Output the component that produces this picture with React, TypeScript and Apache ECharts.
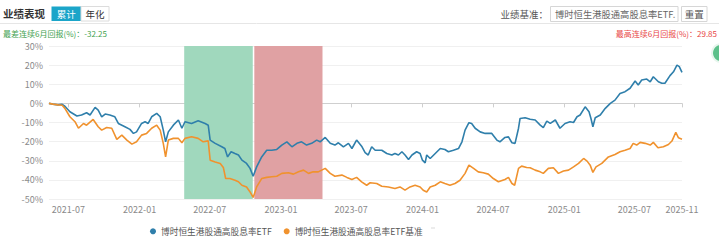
import React, { useEffect, useRef } from "react";
import * as echarts from "echarts";

// ---- data (days counted from 2021-05-12) ----
const START_DATE = [2021, 5, 12];

const etfDays = [0, 10, 23, 34, 41, 54, 72, 84, 97, 106, 119, 127, 136, 145, 157, 170, 179, 196, 209, 218, 226, 239, 248, 256, 265, 278, 287, 295, 301, 308, 321, 334, 343, 351, 368, 385, 403, 411, 416, 429, 446, 454, 461, 470, 480, 489, 498, 510, 519, 527, 536, 549, 562, 575, 588, 601, 614, 627, 640, 652, 665, 678, 691, 700, 713, 726, 738, 747, 760, 773, 782, 794, 807, 816, 824, 833, 842, 859, 872, 885, 893, 902, 911, 919, 928, 937, 949, 958, 964, 971, 975, 984, 997, 1010, 1022, 1031, 1044, 1057, 1066, 1074, 1084, 1091, 1100, 1113, 1126, 1143, 1156, 1164, 1177, 1186, 1195, 1203, 1212, 1216, 1229, 1242, 1255, 1268, 1276, 1285, 1294, 1307, 1319, 1332, 1345, 1354, 1363, 1371, 1384, 1394, 1399, 1404, 1410, 1423, 1436, 1449, 1461, 1474, 1487, 1500, 1513, 1521, 1530, 1543, 1552, 1560, 1573, 1582, 1590, 1603, 1612, 1621, 1627, 1634];
const etfValues = [0, -0.4, -0.8, -0.5, -1.5, -4.4, -6.6, -6.1, -4.9, -6.1, -2.1, -3.5, -7, -5.6, -6.1, -7, -10.5, -12.2, -13.6, -15.7, -14.9, -10.5, -9.6, -10.5, -7, -5.2, -7, -14, -20.1, -14.9, -11.4, -8.7, -13, -9.6, -10.5, -9.1, -10.5, -11.4, -19.2, -20.9, -22.7, -23.6, -28, -25.3, -26.2, -27, -29.7, -31.4, -34, -38.1, -33.2, -28, -24.5, -24.5, -24.1, -21.8, -20.1, -22.7, -20.9, -20.1, -21.8, -20.9, -19.2, -20.1, -17.8, -20.9, -21.8, -20.6, -22.7, -20.9, -23.6, -19.2, -22.4, -25.8, -27, -22.7, -24.5, -24.5, -26.2, -27, -26.2, -27, -25.3, -27, -29.3, -27, -25.3, -26.2, -29.7, -31.1, -27, -28.8, -26.2, -23.6, -24.1, -25.3, -24.5, -23.6, -20.1, -14, -10.1, -10.5, -13, -14.9, -15.7, -15.7, -19.2, -20.1, -17.8, -17.5, -20.6, -20.9, -13, -7.9, -7.5, -8.3, -8.7, -11.4, -12.7, -9.3, -10.5, -8.7, -13, -10.5, -9.6, -10, -7, -6.1, -1.8, -4.4, -7.9, -12.2, -7.5, -6.1, -2.6, 0, 1.7, 5.2, 6.1, 7.9, 11.7, 9.6, 12.2, 12.7, 11.3, 13.9, 11.3, 10.5, 10.5, 14.5, 16.5, 20, 19.2, 16.2];

const benchDays = [0, 10, 23, 34, 41, 54, 67, 76, 89, 97, 114, 127, 136, 149, 162, 175, 188, 201, 214, 226, 239, 252, 265, 278, 287, 295, 301, 308, 321, 334, 343, 351, 368, 385, 398, 411, 416, 429, 442, 450, 456, 467, 480, 489, 498, 510, 519, 527, 536, 549, 562, 575, 588, 601, 618, 631, 644, 657, 670, 682, 695, 713, 726, 738, 756, 769, 782, 794, 807, 820, 829, 846, 859, 876, 893, 906, 919, 932, 945, 958, 966, 975, 984, 997, 1010, 1022, 1035, 1048, 1061, 1074, 1084, 1096, 1108, 1121, 1134, 1147, 1160, 1177, 1186, 1195, 1202, 1212, 1220, 1233, 1242, 1255, 1268, 1276, 1289, 1302, 1315, 1328, 1341, 1354, 1367, 1380, 1389, 1397, 1404, 1412, 1427, 1444, 1461, 1474, 1487, 1500, 1508, 1517, 1526, 1539, 1552, 1560, 1572, 1586, 1599, 1608, 1618, 1625, 1634];
const benchValues = [0, -0.4, -0.8, -1, -2.6, -7, -9.6, -13, -10.5, -11.4, -8.4, -12.2, -14, -12.6, -13, -18.8, -16.6, -19.2, -21.3, -20.1, -16.6, -15.7, -13, -11.4, -14, -20.9, -28, -19.2, -18.3, -18.3, -20.6, -18.3, -17.5, -18.3, -20.1, -19.6, -29.7, -30.6, -31.4, -33.5, -39.3, -39.3, -40.2, -41, -42.8, -43.7, -46.3, -49.2, -43.7, -39.3, -38.7, -38.4, -38.1, -36.6, -36.3, -37, -35.8, -34.9, -36.6, -35.8, -35.8, -34, -36.6, -38.1, -37.5, -38.7, -39.8, -38.7, -41, -42.8, -41.5, -41.9, -43.3, -43.7, -44.5, -43.7, -45.4, -43.7, -42.8, -43.7, -45.4, -46.3, -43.7, -42.8, -41, -41.9, -42.8, -41.9, -40.2, -36.6, -32.3, -34, -35.8, -36.3, -37, -39.3, -41, -39.8, -38.7, -41.9, -42.8, -34, -32.8, -33.5, -33.7, -34.9, -35.8, -36.6, -34, -33.7, -36.6, -35.4, -34.9, -33.2, -31.4, -28.8, -30.2, -32.3, -36.1, -33.2, -31.4, -28, -26.7, -25.3, -24.5, -23.6, -20.9, -21.8, -20.4, -20.9, -21.8, -20.4, -23.2, -22.7, -21.5, -19.7, -15.2, -18, -18.7];

const tickDates = ["2021-07-01", "2022-01-01", "2022-07-01", "2023-01-01", "2023-07-01", "2024-01-01", "2024-07-01", "2025-01-01", "2025-07-01", "2025-11-01"];
const worstPeriod = ["2022-04-26", "2022-10-20"];
const bestPeriod = ["2022-10-24", "2023-04-18"];
const yTicks = [-50, -40, -30, -20, -10, 0, 10, 20, 30];

const seriesNames = ["博时恒生港股通高股息率ETF", "博时恒生港股通高股息率ETF基准"];
const worstText = "最差连续6月回报(%)：-32.25";
const bestText = "最高连续6月回报(%)：29.85";

const FONT = '"Noto Sans CJK SC", "Noto Sans", sans-serif';
const DAY = 86400000;
const startTs = Date.UTC(START_DATE[0], START_DATE[1] - 1, START_DATE[2]);
const dayTs = (d: number) => startTs + d * DAY;
const parse = (s: string) => {
  const [y, m, d] = s.split("-").map(Number);
  return Date.UTC(y, m - 1, d);
};
const fmt = (v: number) => {
  const dt = new Date(v);
  const m = dt.getUTCMonth() + 1;
  return dt.getUTCFullYear() + "-" + (m < 10 ? "0" + m : m);
};

export default function App() {
  const ref = useRef<HTMLDivElement>(null);
  useEffect(() => {
    if (!ref.current) return;
    const chart = echarts.init(ref.current, null, { renderer: "svg" });
    const etfData = etfDays.map((d, i) => [dayTs(d), etfValues[i]]);
    const benchData = benchDays.map((d, i) => [dayTs(d), benchValues[i]]);
    const ticks = tickDates.map(parse);
    chart.setOption({
      animation: false,
      textStyle: { fontFamily: FONT },
      grid: { left: 49, right: 37, top: 46, height: 153 },
      xAxis: {
        type: "value",
        min: dayTs(etfDays[0]),
        max: dayTs(etfDays[etfDays.length - 1]),
        axisLine: { lineStyle: { color: "#cfcfcf" } },
        axisTick: { show: true, customValues: ticks, length: 4, lineStyle: { color: "#cfcfcf" } },
        axisLabel: {
          customValues: ticks,
          formatter: (v: number) => fmt(v),
          color: "#8a8a8a",
          fontSize: 9,
          margin: 6,
          fontFamily: FONT,
        },
        splitLine: { show: false },
      },
      yAxis: {
        type: "value",
        min: yTicks[0],
        max: yTicks[yTicks.length - 1],
        interval: 10,
        axisLabel: { formatter: "{value}%", color: "#8a8a8a", fontSize: 9, margin: 6, fontFamily: FONT },
        axisLine: { show: false },
        axisTick: { show: false },
        splitLine: { lineStyle: { color: "#f0f0f0" } },
      },
      legend: {
        left: 145,
        top: 222,
        icon: "circle",
        itemWidth: 6,
        itemHeight: 6,
        itemGap: 12,
        textStyle: { fontSize: 8.7, color: "#555", fontFamily: FONT },
        data: seriesNames,
      },
      series: [
        {
          name: seriesNames[0],
          type: "line",
          data: etfData,
          showSymbol: false,
          symbol: "none",
          lineStyle: { width: 1.6, color: "#2f7fab" },
          itemStyle: { color: "#2f7fab" },
          z: 3,
          markArea: {
            silent: true,
            data: [
              [{ xAxis: parse(worstPeriod[0]), itemStyle: { color: "#a0d8bd" } }, { xAxis: parse(worstPeriod[1]) }],
              [{ xAxis: parse(bestPeriod[0]), itemStyle: { color: "#e0a1a3" } }, { xAxis: parse(bestPeriod[1]) }],
            ],
          },
        },
        {
          name: seriesNames[1],
          type: "line",
          data: benchData,
          showSymbol: false,
          symbol: "none",
          lineStyle: { width: 1.6, color: "#f0922e" },
          itemStyle: { color: "#f0922e" },
          z: 3,
        },
      ],
      graphic: [
        { type: "line", shape: { x1: 0, y1: 23.5, x2: 719, y2: 23.5 }, style: { stroke: "#e6e6e6", lineWidth: 1 } },
        { type: "text", x: 3, y: 13.5, style: { text: "业绩表现", fontSize: 10.5, fontWeight: "bold", fill: "#333", fontFamily: FONT, textVerticalAlign: "middle" } },
        { type: "rect", shape: { x: 51.5, y: 6.5, width: 29.5, height: 14.5 }, style: { fill: "#1ba5c9" } },
        { type: "text", x: 66.3, y: 14, style: { text: "累计", fontSize: 9.5, fill: "#fff", fontFamily: FONT, textAlign: "center", textVerticalAlign: "middle" } },
        { type: "rect", shape: { x: 81, y: 6.5, width: 28, height: 14.5 }, style: { fill: "#fff", stroke: "#dcdcdc", lineWidth: 1 } },
        { type: "text", x: 95, y: 14, style: { text: "年化", fontSize: 9.5, fill: "#333", fontFamily: FONT, textAlign: "center", textVerticalAlign: "middle" } },
        { type: "text", x: 548, y: 14, style: { text: "业绩基准：", fontSize: 9.5, fill: "#555", fontFamily: FONT, textAlign: "right", textVerticalAlign: "middle" } },
        { type: "rect", shape: { x: 550.5, y: 6.5, width: 127.5, height: 15 }, style: { fill: "#fff", stroke: "#d6d6d6", lineWidth: 1 } },
        { type: "text", x: 555, y: 14, style: { text: "博时恒生港股通高股息率ETF.", fontSize: 9.3, fill: "#666", fontFamily: FONT, textVerticalAlign: "middle" } },
        { type: "rect", shape: { x: 681.5, y: 6.5, width: 25.5, height: 15 }, style: { fill: "#fff", stroke: "#d6d6d6", lineWidth: 1 } },
        { type: "text", x: 694.3, y: 14, style: { text: "重置", fontSize: 9.5, fill: "#555", fontFamily: FONT, textAlign: "center", textVerticalAlign: "middle" } },
        { type: "text", x: 3, y: 33.5, style: { text: worstText, fontSize: 8, fill: "#3fa24f", fontFamily: FONT, textVerticalAlign: "middle" } },
        { type: "text", x: 717, y: 33.5, style: { text: bestText, fontSize: 8, fill: "#e84545", fontFamily: FONT, textAlign: "right", textVerticalAlign: "middle" } },
        { type: "circle", shape: { cx: 721, cy: 53, r: 10 }, style: { fill: "#e8f6ee" } },
        { type: "circle", shape: { cx: 721, cy: 53, r: 8 }, style: { fill: "#5cc08a" } },
        { type: "rect", shape: { x: 431, y: 227.5, width: 4, height: 1 }, style: { fill: "#d8d8d8" } },
      ],
    });
    return () => chart.dispose();
  }, []);
  return (
    <div
      ref={ref}
      style={{ position: "fixed", left: 0, top: 0, width: 719, height: 241, background: "#fff" }}
    />
  );
}
